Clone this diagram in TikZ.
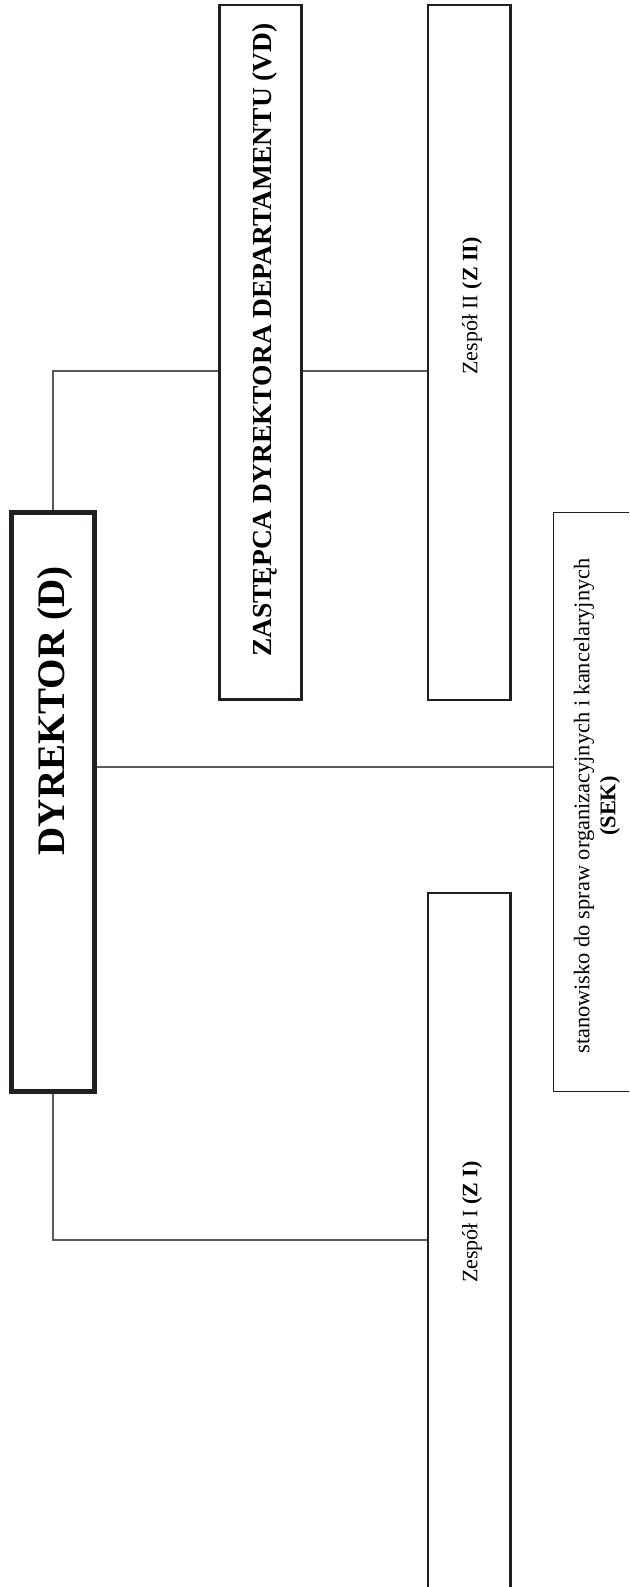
\documentclass[tikz,border=0pt]{standalone}
\usepackage{fontspec}
\setmainfont{Liberation Serif}
\definecolor{boxline}{HTML}{231F20}
\definecolor{linkgray}{HTML}{5A5A5A}
\newcommand{\dirfont}{\fontsize{39}{44}\selectfont\bfseries}
\newcommand{\deputyfont}{\fontsize{27.5}{32}\selectfont\bfseries}
\newcommand{\teamfont}{\fontsize{22}{26}\selectfont}
\newcommand{\postfont}{\fontsize{22.4}{26}\selectfont}

\begin{document}
\begin{tikzpicture}[
        x=1pt, y=-1pt,
        orgbox/.style = {rectangle, draw=boxline, line width=2.3pt, inner sep=0pt, fill=white},
        headbox/.style = {orgbox, line width=5.6pt},
        boxtext/.style = {rotate=90, inner sep=0pt, align=center, text=black},
        link/.style = {draw=linkgray, line width=1.1pt}
        ]
        \clip (0,0) rectangle (629,1587);
        \fill[white] (0,0) rectangle (629,1587);

        % levels of the links
        \coordinate (topline) at (0,371);
        \coordinate (midline) at (0,767);
        \coordinate (lowline) at (0,1240);

        \node[headbox, minimum width=83.2, minimum height=579] (D) at (53,801.8) {};
        \node[orgbox, minimum width=82, minimum height=694.8] (VD) at (260.5,352.1) {};
        \node[orgbox, minimum width=82.5, minimum height=695] (ZII) at (469.3,352.5) {};
        \node[orgbox, minimum width=82.5, minimum height=757] (ZI) at (469.3,1271.5) {};
        \node[orgbox, line width=1.8pt, minimum width=146.5, minimum height=579] (SEK) at (626.8,802) {};

        \draw[link] (D.north) |- (VD.west |- topline);
        \draw[link] (VD.east |- topline) -- (ZII.west |- topline);
        \draw[link] (D.south) |- (ZI.west |- lowline);
        \draw[link] (D.east |- midline) -- (SEK.west |- midline);

        \node[boxtext, font=\dirfont] (tD) at (55.5,711) {DYREKTOR (D)};
        \node[boxtext, font=\deputyfont] (tVD) at (265,340) {ZASTĘPCA DYREKTORA DEPARTAMENTU (VD)};
        \node[boxtext, font=\teamfont] (tZII) at (472,306) {Zespół II \textbf{(Z II)}};
        \node[boxtext, font=\teamfont] (tZI) at (472,1222) {Zespół I \textbf{(Z I)}};
        \node[boxtext, font=\postfont] (tSEK) at (597,806) {stanowisko do spraw organizacyjnych i kancelaryjnych\\\textbf{(SEK)}};
\end{tikzpicture}
\end{document}
